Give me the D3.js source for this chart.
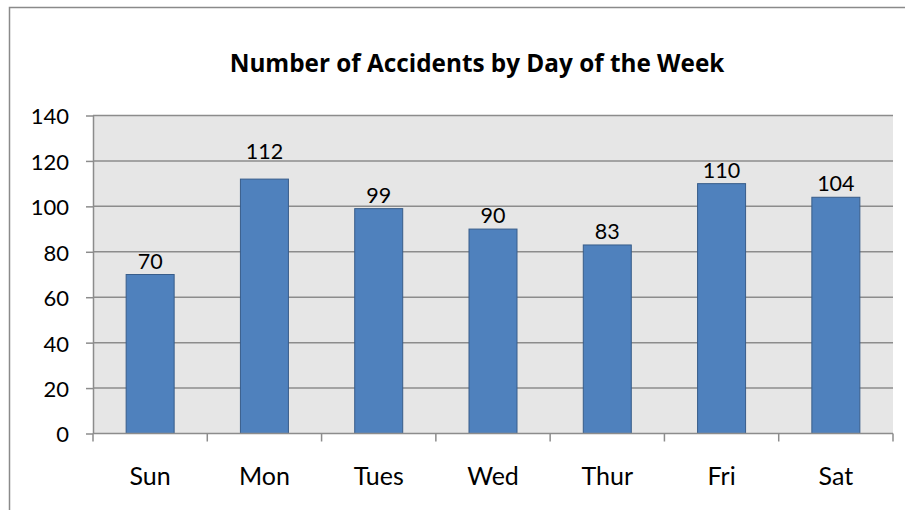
<!DOCTYPE html>
<html>
<head>
<meta charset="utf-8">
<script src="https://cdn.jsdelivr.net/npm/d3@7.9.0/dist/d3.min.js"></script>
<style>
  body { margin: 0; background: #fff; }
  svg { display: block; font-family: Lato, "Open Sans", sans-serif; }
</style>
</head>
<body>
<svg id="chart" width="905" height="510"></svg>
<script>
// Chart data
const days = ['Sun', 'Mon', 'Tues', 'Wed', 'Thur', 'Fri', 'Sat'];
const accidents = [70, 112, 99, 90, 83, 110, 104];
const yTicks = [0, 20, 40, 60, 80, 100, 120, 140];

// Label nudges (px) where the original label was dragged off the bar
const labelLift = { Mon: 14 };

const svg = d3.select('#chart');

// Plot area bounds
const plotLeft = 93, plotRight = 893, plotTop = 115.5, plotBottom = 433.5;

// Outer chart frame (cropped on right/bottom)
svg.append('rect')
    .attr('x', 9.5).attr('y', 7.5)
    .attr('width', 1000).attr('height', 1000)
    .attr('fill', 'none')
    .attr('stroke', '#8a8a8a')
    .attr('stroke-width', 1.5);

// Title
svg.append('text')
    .attr('x', 477).attr('y', 72)
    .attr('text-anchor', 'middle')
    .attr('font-family', '"Open Sans", Lato, sans-serif')
    .attr('font-weight', 'bold')
    .attr('font-size', 24.3)
    .attr('fill', '#000')
    .text('Number of Accidents by Day of the Week');

// Scales
const xBand = d3.scaleBand().domain(days).range([plotLeft, plotRight]);
const y = d3.scaleLinear().domain([0, 140]).range([plotBottom, plotTop]);

// Plot background
svg.append('rect')
    .attr('x', plotLeft).attr('y', plotTop)
    .attr('width', plotRight - plotLeft).attr('height', plotBottom - plotTop)
    .attr('fill', '#e6e6e6');

// Gridlines
svg.append('g')
    .selectAll('line')
    .data(yTicks.filter((d) => d > 0))
    .join('line')
    .attr('x1', plotLeft).attr('x2', plotRight)
    .attr('y1', (d) => y(d)).attr('y2', (d) => y(d))
    .attr('stroke', '#8c8c8c')
    .attr('stroke-width', 1.5);

// Bars
svg.append('g')
    .selectAll('rect')
    .data(accidents)
    .join('rect')
    .attr('x', (d, i) => xBand(days[i]) + xBand.bandwidth() / 2 - 24)
    .attr('width', 48)
    .attr('y', (d) => y(d))
    .attr('height', (d) => y(0) - y(d))
    .attr('fill', '#4f81bd')
    .attr('stroke', '#385d8a')
    .attr('stroke-width', 1);

// Value labels
svg.append('g')
    .selectAll('text')
    .data(accidents)
    .join('text')
    .attr('x', (d, i) => xBand(days[i]) + xBand.bandwidth() / 2)
    .attr('y', (d, i) => y(d) - 6 - (labelLift[days[i]] || 0))
    .attr('text-anchor', 'middle')
    .attr('font-size', 21.5)
    .attr('fill', '#000')
    .text((d) => d);

// Y axis
const yAxis = svg.append('g')
    .attr('transform', `translate(${plotLeft},0)`)
    .call(d3.axisLeft(y).tickValues(yTicks).tickSize(7).tickPadding(17));
yAxis.select('.domain').attr('stroke', '#8c8c8c').attr('stroke-width', 1.5)
    .attr('d', `M0.5,${plotTop}V${plotBottom}`);
yAxis.selectAll('.tick line').attr('stroke', '#8c8c8c').attr('stroke-width', 1.5);
yAxis.selectAll('.tick text').attr('font-size', 22).attr('fill', '#000')
    .attr('dy', '0.38em')
    .attr('font-family', 'Lato, "Open Sans", sans-serif');

// X axis
const xAxis = svg.append('g')
    .attr('transform', `translate(0,${plotBottom})`);
xAxis.append('line')
    .attr('x1', plotLeft).attr('x2', plotRight)
    .attr('stroke', '#8c8c8c').attr('stroke-width', 1.5);
xAxis.selectAll('.xtick')
    .data(d3.range(days.length + 1))
    .join('line')
    .attr('class', 'xtick')
    .attr('x1', (i) => plotLeft + i * xBand.step()).attr('x2', (i) => plotLeft + i * xBand.step())
    .attr('y1', 0).attr('y2', 8)
    .attr('stroke', '#8c8c8c').attr('stroke-width', 1.5);
xAxis.selectAll('.xlabel')
    .data(days)
    .join('text')
    .attr('class', 'xlabel')
    .attr('x', (d) => xBand(d) + xBand.bandwidth() / 2)
    .attr('y', 51)
    .attr('text-anchor', 'middle')
    .attr('font-size', 25)
    .attr('fill', '#000')
    .text((d) => d);
</script>
</body>
</html>
